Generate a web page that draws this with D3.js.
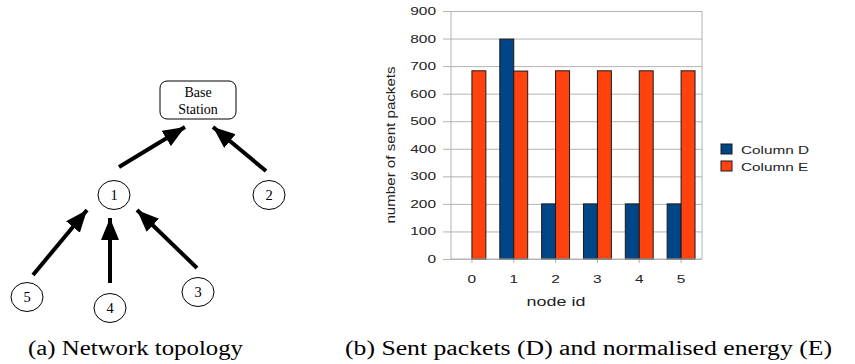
<!DOCTYPE html>
<html>
<head>
<meta charset="utf-8">
<script src="https://cdn.jsdelivr.net/npm/d3@7"></script>
<style>
  html, body { margin: 0; padding: 0; background: #fff; }
  svg { display: block; }
</style>
</head>
<body>
<div class="chart"></div>
<script>
;(function() {
	'use strict';

	// chart data
	var nodeIds = ['0', '1', '2', '3', '4', '5'];
	var seriesNames = ['Column D', 'Column E'];
	var columnD = [0, 798, 200, 200, 200, 200];
	var columnE = [683, 682, 683, 683, 683, 683];
	var yTicks = [0, 100, 200, 300, 400, 500, 600, 700, 800, 900];

	// topology data
	var topoNodes = ['1', '2', '3', '4', '5'];
	var topoEdges = [['1', 'BS'], ['2', 'BS'], ['5', '1'], ['4', '1'], ['3', '1']];

	var captions = ['(a) Network topology', '(b) Sent packets (D) and normalised energy (E)'];

	var width = 855, height = 364;
	var colors = ['#004586', '#ff420e'];

	var svg = d3.select('.chart').append('svg')
		.attr('width', width)
		.attr('height', height);

	// stretch text horizontally, like the reference rendering
	function stretch(sel, sx) {
		sel.each(function() {
			var t = d3.select(this);
			var x = +t.attr('x') || 0, y = +t.attr('y') || 0;
			t.attr('transform', 'translate(' + x + ',' + y + ') scale(' + sx + ',1)')
				.attr('x', 0).attr('y', 0);
		});
	}

	// ---------- left: network topology ----------
	var topo = svg.append('g').attr('class', 'topo');

	// drawing layout for the diagram
	var layout = {
		BS: { x: 160, y: 81, w: 76, h: 38 },
		'1': [114, 195], '2': [269, 195], '3': [198, 292], '4': [110, 308], '5': [27, 297]
	};
	var arrowEnds = {
		'1-BS': [119, 167, 185, 127],
		'2-BS': [266, 171, 213, 127],
		'5-1': [33, 275, 87, 210],
		'4-1': [110, 283, 110, 218],
		'3-1': [197, 268, 137, 210]
	};

	svg.append('defs').append('marker')
		.attr('id', 'head')
		.attr('markerUnits', 'userSpaceOnUse')
		.attr('viewBox', '0 0 22 18')
		.attr('refX', 22).attr('refY', 9)
		.attr('markerWidth', 22).attr('markerHeight', 18)
		.attr('orient', 'auto')
		.append('path')
		.attr('d', 'M0,0L22,9L0,18Z')
		.attr('fill', '#000');

	topo.selectAll('line.edge')
		.data(topoEdges)
		.enter()
		.append('line')
		.attr('class', 'edge')
		.each(function(d) {
			var e = arrowEnds[d[0] + '-' + d[1]];
			d3.select(this)
				.attr('x1', e[0]).attr('y1', e[1])
				.attr('x2', e[2]).attr('y2', e[3]);
		})
		.attr('stroke', '#000')
		.attr('stroke-width', 4)
		.attr('marker-end', 'url(#head)');

	topo.append('rect')
		.attr('x', layout.BS.x).attr('y', layout.BS.y)
		.attr('width', layout.BS.w).attr('height', layout.BS.h)
		.attr('rx', 7)
		.attr('fill', '#fff')
		.attr('stroke', '#000');

	topo.selectAll('text.bs')
		.data(['Base', 'Station'])
		.enter()
		.append('text')
		.attr('class', 'bs')
		.attr('x', layout.BS.x + layout.BS.w / 2)
		.attr('y', function(d, i) { return layout.BS.y + 16 + i * 17; })
		.attr('text-anchor', 'middle')
		.attr('font-family', 'Liberation Serif, serif')
		.attr('font-size', 14)
		.text(function(d) { return d; });

	var nodeG = topo.selectAll('g.node')
		.data(topoNodes)
		.enter()
		.append('g')
		.attr('class', 'node')
		.attr('transform', function(d) { return 'translate(' + layout[d][0] + ',' + layout[d][1] + ')'; });

	nodeG.append('ellipse')
		.attr('rx', 16).attr('ry', 14.5)
		.attr('fill', '#fff')
		.attr('stroke', '#000');

	nodeG.append('text')
		.attr('y', 5)
		.attr('text-anchor', 'middle')
		.attr('font-family', 'Liberation Serif, serif')
		.attr('font-size', 14.5)
		.text(function(d) { return d; });

	// ---------- right: bar chart ----------
	var plot = { left: 451, right: 702, top: 11, bottom: 259 };

	var x = d3.scaleBand()
		.domain(nodeIds)
		.range([plot.left, plot.right]);

	var xs = d3.scaleBand()
		.domain(seriesNames)
		.range([x.bandwidth() / 6, x.bandwidth() * 5 / 6]);

	var y = d3.scaleLinear()
		.domain([0, 900])
		.range([plot.bottom, plot.top]);

	var chart = svg.append('g').attr('class', 'bars');

	// grid + left ticks
	chart.append('g')
		.attr('transform', 'translate(' + plot.left + ',0)')
		.call(d3.axisLeft(y).tickValues(yTicks).tickSize(-(plot.right - plot.left)).tickFormat(''))
		.call(function(g) {
			g.select('.domain').remove();
			g.selectAll('.tick line')
				.attr('x1', -8)
				.attr('stroke', '#b3b3b3');
		});

	// frame
	chart.append('line')
		.attr('x1', plot.left).attr('x2', plot.left)
		.attr('y1', plot.top).attr('y2', plot.bottom)
		.attr('stroke', '#b3b3b3');
	chart.append('line')
		.attr('x1', plot.right).attr('x2', plot.right)
		.attr('y1', plot.top).attr('y2', plot.bottom)
		.attr('stroke', '#b3b3b3');

	// x ticks at category centres
	chart.append('g')
		.attr('transform', 'translate(0,' + plot.bottom + ')')
		.call(d3.axisBottom(x).tickSize(4).tickFormat(''))
		.call(function(g) {
			g.select('.domain').remove();
			g.selectAll('.tick line').attr('stroke', '#b3b3b3');
		});

	var rows = nodeIds.map(function(id, i) {
		return { id: id, values: [columnD[i], columnE[i]] };
	});

	var groups = chart.selectAll('g.cat')
		.data(rows)
		.enter()
		.append('g')
		.attr('class', 'cat')
		.attr('transform', function(d) { return 'translate(' + x(d.id) + ',0)'; });

	groups.selectAll('rect')
		.data(function(d) {
			return d.values.map(function(v, j) { return { key: seriesNames[j], value: v, j: j }; })
				.filter(function(b) { return b.value > 0; });
		})
		.enter()
		.append('rect')
		.attr('x', function(d) { return xs(d.key); })
		.attr('y', function(d) { return y(d.value); })
		.attr('width', xs.bandwidth())
		.attr('height', function(d) { return y(0) - y(d.value); })
		.attr('fill', function(d) { return colors[d.j]; })
		.attr('stroke', '#1a1a1a')
		.attr('stroke-width', 1);

	// x axis baseline over bars
	chart.append('line')
		.attr('x1', plot.left).attr('x2', plot.right)
		.attr('y1', plot.bottom).attr('y2', plot.bottom)
		.attr('stroke', '#b3b3b3');

	var sans = 'Liberation Sans, Arial, sans-serif';

	var yl = chart.selectAll('text.ytick')
		.data(yTicks)
		.enter()
		.append('text')
		.attr('class', 'ytick')
		.attr('x', 436)
		.attr('y', function(d) { return y(d) + 4; })
		.attr('text-anchor', 'end')
		.attr('font-family', sans)
		.attr('font-size', 11.2)
		.attr('fill', '#222')
		.text(function(d) { return d; });
	stretch(yl, 1.38);

	var xl = chart.selectAll('text.xtick')
		.data(nodeIds)
		.enter()
		.append('text')
		.attr('class', 'xtick')
		.attr('x', function(d) { return x(d) + x.bandwidth() / 2; })
		.attr('y', 283)
		.attr('text-anchor', 'middle')
		.attr('font-family', sans)
		.attr('font-size', 11.2)
		.attr('fill', '#222')
		.text(function(d) { return d; });
	stretch(xl, 1.38);

	var xt = chart.append('text')
		.attr('x', 556)
		.attr('y', 306)
		.attr('text-anchor', 'middle')
		.attr('font-family', sans)
		.attr('font-size', 12.8)
		.attr('fill', '#222')
		.text('node id');
	stretch(xt, 1.4);

	chart.append('text')
		.attr('transform', 'translate(395,145) rotate(-90) scale(1.22,1)')
		.attr('text-anchor', 'middle')
		.attr('font-family', sans)
		.attr('font-size', 12.4)
		.attr('fill', '#222')
		.text('number of sent packets');

	// legend
	var legend = chart.selectAll('g.legend')
		.data(seriesNames)
		.enter()
		.append('g')
		.attr('class', 'legend')
		.attr('transform', function(d, i) { return 'translate(721,' + (144 + i * 17) + ')'; });

	legend.append('rect')
		.attr('width', 11).attr('height', 10)
		.attr('fill', function(d, i) { return colors[i]; })
		.attr('stroke', '#1a1a1a');

	var lt = legend.append('text')
		.attr('x', 20)
		.attr('y', 9.5)
		.attr('font-family', sans)
		.attr('font-size', 11.2)
		.attr('fill', '#222')
		.text(function(d) { return d; });
	stretch(lt, 1.37);

	// captions, fitted to the widths of the original LaTeX captions
	var capBox = [[28, 215], [345, 487]];
	svg.selectAll('text.caption')
		.data(captions)
		.enter()
		.append('text')
		.attr('class', 'caption')
		.attr('x', function(d, i) { return capBox[i][0]; })
		.attr('y', 355)
		.attr('textLength', function(d, i) { return capBox[i][1]; })
		.attr('lengthAdjust', 'spacingAndGlyphs')
		.attr('font-family', 'Liberation Serif, serif')
		.attr('font-size', 20)
		.attr('fill', '#000')
		.text(function(d) { return d; });

})();
</script>
</body>
</html>
